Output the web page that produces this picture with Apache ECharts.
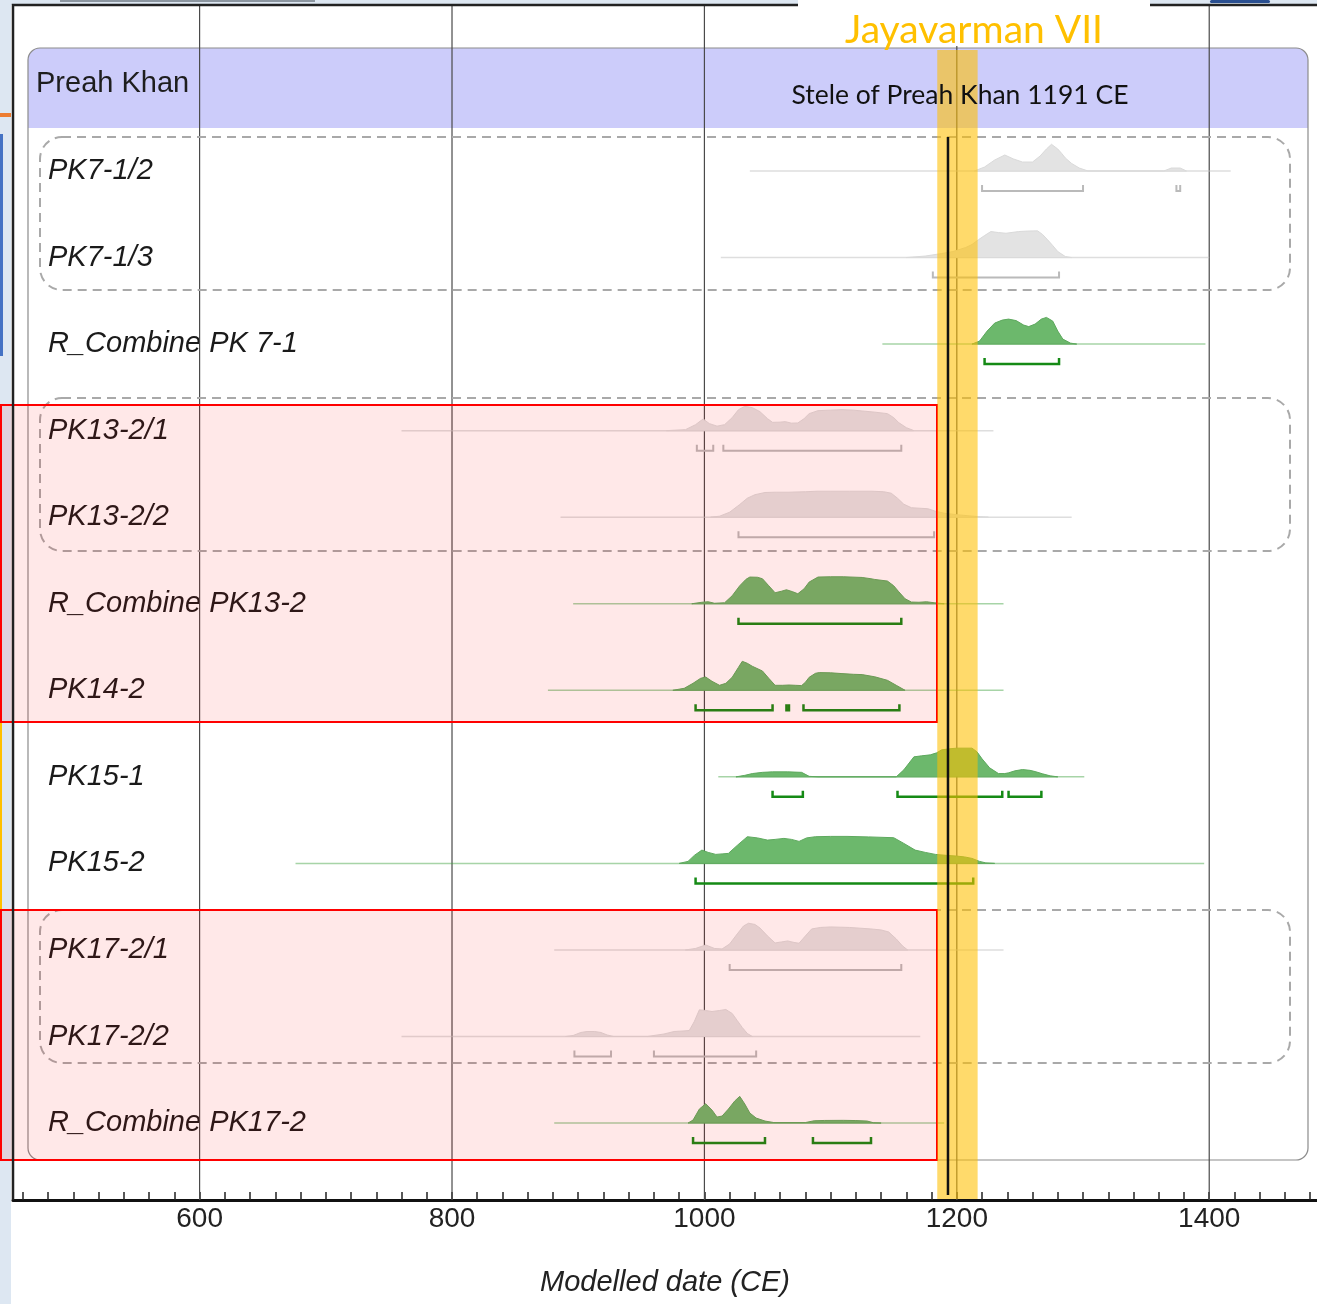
<!DOCTYPE html>
<html><head><meta charset="utf-8">
<script src="https://cdn.jsdelivr.net/npm/echarts@6/dist/echarts.min.js"></script>
<style>html,body{margin:0;padding:0;background:#fff}#c{width:1317px;height:1304px}</style>
</head><body><div id="c"></div>
<script>
// ---------------- data ----------------
const rowLabels = ['PK7-1/2','PK7-1/3','R_Combine PK 7-1','PK13-2/1','PK13-2/2','R_Combine PK13-2','PK14-2','PK15-1','PK15-2','PK17-2/1','PK17-2/2','R_Combine PK17-2'];
// 'prior' = unmodelled (grey) likelihood, 'model' = modelled (green) posterior
const rowKinds = ['prior','prior','model','prior','prior','model','model','model','model','prior','prior','model'];

// probability distributions: [year CE, relative probability]
const pk7_1_2 = [[1214,0],[1222,4],[1230,11],[1238,16],[1245,12],[1252,9],[1260,9],[1266,15],[1271,22],[1275,26.7],[1280,22],[1283,17.7],[1286,13],[1291,7.5],[1297,3],[1304,0],[1364,0],[1370,3],[1377,3],[1382,0]];
const pk7_1_3 = [[1160,0],[1175,1.5],[1188,4],[1197,6],[1207,10],[1212,13],[1217,17.7],[1222,22],[1227,26],[1233,25],[1239,24.3],[1249,26],[1256,26.5],[1264,26.7],[1268,23],[1272,17.7],[1276,12],[1280,6],[1286,1],[1291,0]];
const rc_pk7_1 = [[1212,0],[1218,3],[1224,13],[1230,21],[1236,24],[1241,25],[1247,23.5],[1253,19],[1257,17.5],[1262,20],[1267,25],[1271,26.7],[1276,23],[1280,13],[1284,5],[1290,1],[1295,0]];
const pk13_2_1 = [[970,0],[985,1],[993,6],[999,11.7],[1004,7],[1010,4.5],[1016,6],[1022,13],[1027,21],[1032,24.3],[1038,23],[1044,19],[1050,12],[1054,8.3],[1060,8.5],[1064,9],[1069,7.5],[1074,7.7],[1079,12],[1083,17],[1090,20],[1100,20.5],[1109,21],[1118,20.5],[1125,19.7],[1135,18.5],[1145,17],[1150,13],[1154,8],[1160,3],[1166,0]];
const pk13_2_2 = [[1005,0],[1012,1],[1020,5],[1028,12.7],[1034,19],[1040,22.5],[1048,24.7],[1057,25],[1067,25],[1080,25.5],[1090,26],[1100,26],[1115,26],[1132,26],[1142,25.5],[1148,24],[1153,19],[1158,13],[1164,9.5],[1170,9],[1177,8.5],[1183,6],[1190,4],[1200,2.5],[1213,1],[1225,0]];
const rc_pk13_2 = [[990,0],[998,1.5],[1003,2],[1008,0.5],[1016,1],[1022,8],[1028,18],[1033,24.5],[1036,26.7],[1042,26.5],[1046,25],[1051,18],[1056,11],[1061,12.5],[1065,14],[1070,12],[1074,10],[1079,15],[1083,21.7],[1090,26.7],[1100,27],[1110,27],[1125,26.3],[1132,25],[1135,24.3],[1145,22.7],[1150,18],[1154,12],[1159,5],[1164,1.7],[1170,1.5],[1176,2],[1182,1],[1190,0]];
const pk14_2 = [[975,0],[984,2],[991,7],[997,12],[1001,13.3],[1006,9],[1012,5],[1017,7],[1022,13],[1027,23],[1030,29],[1034,27],[1038,24],[1046,19.3],[1051,12],[1056,5],[1062,5],[1067,5.3],[1072,5],[1077,4.7],[1080,8],[1083,13],[1088,17],[1091,17.7],[1100,17.5],[1109,16.7],[1118,16],[1125,15.7],[1135,13.5],[1145,10],[1152,5],[1159,0]];
const pk15_1 = [[1025,0],[1032,1.5],[1038,3.3],[1046,4.5],[1054,5],[1066,5],[1077,4.5],[1083,0.5],[1090,0],[1152,0],[1158,7],[1166,20],[1172,21],[1179,22],[1184,24],[1188,27],[1194,28],[1200,28.7],[1212,28.7],[1216,25],[1220,18],[1226,9],[1233,3.3],[1238,3.3],[1241,4],[1246,6],[1252,7.3],[1258,6.5],[1262,5.3],[1268,3],[1274,1],[1280,0]];
const pk15_2 = [[980,0],[987,2],[992,8],[998,13.3],[1003,11],[1009,9],[1014,9.5],[1019,10],[1026,18],[1034,26.7],[1042,25.5],[1050,23.3],[1056,24],[1063,25],[1069,24],[1075,22],[1081,25.5],[1088,26.7],[1100,27],[1113,27],[1130,26.5],[1150,25.7],[1158,20],[1167,13.3],[1175,11],[1183,9],[1192,8],[1200,7.3],[1206,6.5],[1212,5],[1218,2],[1223,0.5],[1230,0]];
const pk17_2_1 = [[985,0],[993,1.5],[1001,5],[1008,1.5],[1014,1],[1020,6],[1026,16],[1031,24],[1035,26.7],[1040,25.5],[1044,22],[1050,14],[1056,7],[1061,8],[1066,9],[1071,7.5],[1075,6.7],[1080,14],[1085,21],[1092,22.5],[1100,23],[1115,22.5],[1132,21],[1140,20],[1146,18],[1152,11],[1157,4],[1161,0]];
const pk17_2_2 = [[890,0],[896,1],[902,4],[907,5],[913,5],[918,4],[923,1.5],[928,0],[955,0],[960,1],[968,2.5],[976,5],[983,5.5],[988,6],[992,15],[996,26.7],[1001,26],[1006,25],[1012,26],[1017,27],[1022,23],[1026,16],[1030,9],[1034,3],[1038,0]];
const rc_pk17_2 = [[987,0],[991,3],[996,14],[1001,19.3],[1006,13],[1010,6],[1014,7],[1019,14],[1024,22],[1028,26.7],[1032,19],[1036,10],[1041,5],[1048,2],[1055,0.5],[1080,0.5],[1087,2.3],[1095,2.6],[1110,2.7],[1120,2.5],[1129,2],[1134,0.3],[1140,0]];
const distributions = [pk7_1_2,pk7_1_3,rc_pk7_1,pk13_2_1,pk13_2_2,rc_pk13_2,pk14_2,pk15_1,pk15_2,pk17_2_1,pk17_2_2,rc_pk17_2];

// faint full range of each distribution [from, to]
const tailRanges = [[1036,1417],[1013,1400],[1141,1397],[760,1229],[886,1291],[896,1237],[876,1237],[1011,1301],[676,1396],[881,1237],[760,1171],[881,1190]];

// 95.4% highest posterior density ranges
const hpdRanges = [
  [[1220,1300],[1374,1377]],
  [[1181,1281]],
  [[1222,1281]],
  [[994,1007],[1015,1156]],
  [[1027,1182]],
  [[1027,1156]],
  [[993,1054],[1065,1067],[1078.5,1154.5]],
  [[1054,1078],[1153,1236],[1241,1267]],
  [[993,1213]],
  [[1020,1156]],
  [[897,926],[960,1041]],
  [[991,1048],[1086,1132]]
];

const majorTicks = [600,800,1000,1200,1400];
const minorTicks = [460,480,500,520,540,560,580,600,620,640,660,680,700,720,740,760,780,800,820,840,860,880,900,920,940,960,980,1000,1020,1040,1060,1080,1100,1120,1140,1160,1180,1200,1220,1240,1260,1280,1300,1320,1340,1360,1380,1400,1420,1440,1460,1480];
const reignBand = [1184.5, 1216.5];   // Jayavarman VII highlight
const steleYear = [1193];              // Stele of Preah Khan marker

// ---------------- layout ----------------
const XMIN = 452.14, XMAX = 1485.4;
const YMIN = -1.918, YMAX = 11.889;
const DENS = 1/86.55;

const chart = echarts.init(document.getElementById('c'), null, {renderer:'canvas'});

function renderDist(params, api) {
  const i = params.dataIndex;
  const green = rowKinds[i] === 'model';
  const shape = distributions[i];
  const tail = tailRanges[i];
  const base = api.coord([tail[0], i])[1];
  const poly = shape.map(p => api.coord([p[0], i - p[1]*DENS]));
  const t0 = api.coord([tail[0], i])[0], t1 = api.coord([tail[1], i])[0];
  const children = [
    {type:'line', shape:{x1:t0, y1:base, x2:t1, y2:base},
     style:{stroke: green ? 'rgba(60,160,60,0.45)' : 'rgba(195,195,195,0.55)', lineWidth:1.5}},
    {type:'polygon', shape:{points: poly},
     style:{fill: green ? '#6cb86c' : '#e3e3e3', stroke: green ? '#5ea95e' : '#dadada', lineWidth:1}}
  ];
  hpdRanges[i].forEach(r => {
    const xa = api.coord([r[0], i])[0], xb = api.coord([r[1], i])[0];
    const y = base + 20;
    children.push({type:'polyline', shape:{points:[[xa,y-6],[xa,y],[xb,y],[xb,y-6]]},
      style:{fill:null, stroke: green ? '#158a15' : '#bababa', lineWidth: green ? 2.5 : 2}});
  });
  return {type:'group', children};
}

const font = '"Liberation Sans", Arial, sans-serif';

chart.setOption({
  backgroundColor:'#ffffff',
  animation:false,
  grid:{left:13, right:0, top:5, bottom:104, containLabel:false, outerBoundsMode:'none'},
  xAxis:{
    type:'value', min:XMIN, max:XMAX,
    axisLine:{show:true, onZero:false, lineStyle:{color:'#111', width:3}},
    axisTick:{show:true, inside:true, length:8, customValues:minorTicks, lineStyle:{color:'#222', width:1.5}},
    axisLabel:{show:true, customValues:majorTicks, margin:5, fontSize:28, color:'#222', fontFamily:font,
      formatter: v => String(Math.round(v))},
    splitLine:{show:false},
    name:'Modelled date (CE)', nameLocation:'middle', nameGap:68,
    nameTextStyle:{fontSize:29, fontStyle:'italic', color:'#222', fontFamily:font}
  },
  yAxis:{
    type:'value', inverse:true, min:YMIN, max:YMAX,
    axisLine:{show:false}, axisTick:{show:false}, splitLine:{show:false},
    axisLabel:{show:true, inside:true, margin:35, customValues:[0,1,2,3,4,5,6,7,8,9,10,11],
      formatter: v => rowLabels[Math.round(v)] || '',
      fontSize:29, fontStyle:'italic', color:'#1a1a1a', fontFamily:font}
  },
  series:[
    { // vertical grid lines
      type:'custom', z:2, silent:true,
      data: majorTicks.map(v => [v, 0]),
      renderItem:(p, api) => {
        const a = api.coord([api.value(0), YMIN]), b = api.coord([api.value(0), YMAX]);
        return {type:'line', shape:{x1:a[0], y1:a[1], x2:b[0], y2:b[1]}, style:{stroke:'#4a4a4a', lineWidth:1.2}};
      }
    },
    { // distributions
      type:'custom', z:4, silent:true,
      data: rowLabels.map((l, i) => [1000, i]),
      renderItem: renderDist
    },
    { // reign band
      type:'custom', z:6, silent:true,
      data:[[reignBand[0], reignBand[1]]],
      renderItem:(p, api) => {
        const a = api.coord([api.value(0), 0])[0], b = api.coord([api.value(1), 0])[0];
        return {type:'rect', shape:{x:a, y:50, width:b-a, height:1149}, style:{fill:'rgba(255,192,0,0.58)'}};
      }
    },
    { // stele year marker
      type:'custom', z:7, silent:true,
      data:[[steleYear[0], 0]],
      renderItem:(p, api) => {
        const a = api.coord([api.value(0), 0])[0];
        return {type:'line', shape:{x1:a, y1:137, x2:a, y2:1195}, style:{stroke:'#111', lineWidth:2.5}};
      }
    }
  ],
  graphic:[
    {type:'rect', z:0, shape:{x:0,y:0,width:11,height:1304}, style:{fill:'#dde7f2'}},
    {type:'rect', z:0, shape:{x:0,y:0,width:1317,height:5}, style:{fill:'#dde7f2'}},
    {type:'rect', z:0, shape:{x:60,y:0,width:255,height:2}, style:{fill:'#8c96a0'}},
    {type:'rect', z:0, shape:{x:936,y:0,width:48,height:3,r:2}, style:{fill:'#2a6cc0'}},
    {type:'rect', z:0, shape:{x:1070,y:0,width:68,height:3,r:2}, style:{fill:'#2a6cc0'}},
    {type:'rect', z:0, shape:{x:1210,y:0,width:60,height:3,r:2}, style:{fill:'#2a4f90'}},
    {type:'rect', z:0, shape:{x:0,y:113,width:11,height:4}, style:{fill:'#ed7d31'}},
    {type:'rect', z:0, shape:{x:0,y:134,width:3,height:222}, style:{fill:'#4472c4'}},
    {type:'rect', z:0, shape:{x:0,y:406,width:2,height:754}, style:{fill:'#ffc000'}},
    // group box with header
    {type:'rect', z:1, shape:{x:28,y:48,width:1280,height:80,r:[12,12,0,0]}, style:{fill:'#ccccfa'}},
    {type:'rect', z:1, shape:{x:28,y:48,width:1280,height:1112,r:12}, style:{fill:null, stroke:'#8c8c8c', lineWidth:1.2}},
    // dashed combine boxes
    {type:'rect', z:3, shape:{x:40,y:137,width:1250,height:153,r:22}, style:{fill:null, stroke:'#a9a9a9', lineWidth:2, lineDash:[9,6]}},
    {type:'rect', z:3, shape:{x:40,y:398,width:1250,height:153,r:22}, style:{fill:null, stroke:'#a9a9a9', lineWidth:2, lineDash:[9,6]}},
    {type:'rect', z:3, shape:{x:40,y:910,width:1250,height:153,r:22}, style:{fill:null, stroke:'#a9a9a9', lineWidth:2, lineDash:[9,6]}},
    // red highlight boxes
    {type:'rect', z:5, shape:{x:1,y:405,width:936,height:317}, style:{fill:'rgba(255,0,0,0.09)', stroke:'#ff0000', lineWidth:2}},
    {type:'rect', z:5, shape:{x:1,y:910,width:936,height:250}, style:{fill:'rgba(255,0,0,0.09)', stroke:'#ff0000', lineWidth:2}},
    // outer frame
    {type:'polyline', z:7, shape:{points:[[13,1200],[13,5],[1318,5]]}, style:{fill:null, stroke:'#222', lineWidth:2.5}},
    // title area
    {type:'rect', z:8, shape:{x:798,y:0,width:352,height:46}, style:{fill:'#ffffff'}},
    {type:'text', z:9, x:974, y:30, style:{text:'Jayavarman VII', font:'39px Lato, "Open Sans", sans-serif', fill:'#ffc000', textAlign:'center', textVerticalAlign:'middle'}},
    {type:'text', z:9, x:960, y:95, style:{text:'Stele of Preah Khan 1191 CE', font:'26.5px Lato, "Open Sans", sans-serif', fill:'#111', textAlign:'center', textVerticalAlign:'middle'}},
    {type:'text', z:9, x:36, y:84, style:{text:'Preah Khan', font:'29px "Liberation Sans", Arial, sans-serif', fill:'#1e1e1e', textAlign:'left', textVerticalAlign:'middle'}}
  ]
});
</script>
</body></html>
